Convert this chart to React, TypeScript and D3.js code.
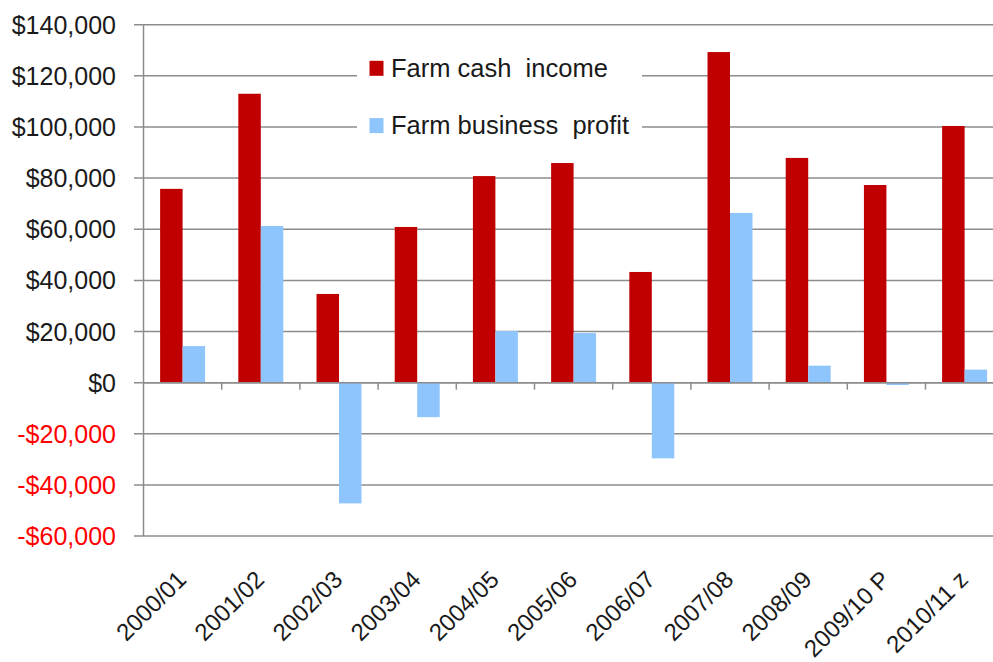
import { useEffect, useRef } from 'react';
import * as d3 from 'd3';

const categories = ['2000/01', '2001/02', '2002/03', '2003/04', '2004/05', '2005/06', '2006/07', '2007/08', '2008/09', '2009/10 P', '2010/11 z'];
const cashIncome = [75800, 113000, 34700, 60900, 80800, 85900, 43300, 129300, 87900, 77300, 100400];
const businessProfit = [14300, 61300, -47200, -13500, 20200, 19400, -29600, 66400, 6650, -900, 5100];
const yTicks = [140000, 120000, 100000, 80000, 60000, 40000, 20000, 0, -20000, -40000, -60000];
const seriesNames = ['Farm cash  income', 'Farm business  profit'];
const seriesColors = ['#c00000', '#8fc5fd'];

export default function App() {
  const svgRef = useRef<SVGSVGElement>(null);

  useEffect(() => {
    if (!svgRef.current) return;
    const width = 993;
    const height = 662;
    const left = 143.5;
    const step = 78.2;
    const font = '"Liberation Sans", Arial, sans-serif';

    const svg = d3.select(svgRef.current).attr('width', width).attr('height', height);
    svg.selectAll('*').remove();

    const x = d3.scaleBand<string>()
      .domain(categories)
      .range([left, left + step * categories.length])
      .paddingInner(0.425)
      .paddingOuter(0.2125);
    const x1 = d3.scaleBand<number>().domain([0, 1]).range([0, x.bandwidth()]);
    const y = d3.scaleLinear().domain([-60000, 140000]).range([536.1, 24.7]);

    // gridlines + y labels
    const grid = svg.append('g');
    yTicks.forEach(t => {
      grid.append('line')
        .attr('x1', 134).attr('x2', width)
        .attr('y1', y(t)).attr('y2', y(t))
        .attr('stroke', '#8c8c8c').attr('stroke-width', 1.5);
      grid.append('text')
        .attr('x', 116).attr('y', y(t)).attr('dy', '0.36em')
        .attr('text-anchor', 'end')
        .style('font-family', font).style('font-size', '25px')
        .attr('fill', t < 0 ? '#ff0000' : '#1a1a1a')
        .text((t < 0 ? '-' : '') + d3.format('$,')(Math.abs(t)));
    });

    // bars
    const series = [cashIncome, businessProfit];
    series.forEach((vals, si) => {
      svg.append('g').selectAll('rect')
        .data(vals)
        .enter()
        .append('rect')
        .attr('x', (_, i) => (x(categories[i]) ?? 0) + (x1(si) ?? 0))
        .attr('width', x1.bandwidth())
        .attr('y', d => y(Math.max(0, d)))
        .attr('height', d => Math.abs(y(d) - y(0)))
        .attr('fill', seriesColors[si]);
    });

    // axes
    svg.append('line')
      .attr('x1', left).attr('x2', left)
      .attr('y1', y(140000)).attr('y2', y(-60000))
      .attr('stroke', '#8c8c8c').attr('stroke-width', 1.5);
    svg.append('line')
      .attr('x1', left).attr('x2', width)
      .attr('y1', y(0)).attr('y2', y(0))
      .attr('stroke', '#8c8c8c').attr('stroke-width', 1.5);
    categories.forEach((c, i) => {
      const tx = left + step * (i + 1);
      svg.append('line')
        .attr('x1', tx).attr('x2', tx)
        .attr('y1', y(0)).attr('y2', y(0) + 7)
        .attr('stroke', '#8c8c8c').attr('stroke-width', 1.5);
      const cx = (x(c) ?? 0) + x.bandwidth() / 2;
      svg.append('text')
        .attr('transform', `translate(${cx + 5},${581}) rotate(-45)`)
        .attr('text-anchor', 'end')
        .style('font-family', font).style('font-size', '24px')
        .attr('fill', '#1a1a1a')
        .text(c);
    });

    // legend
    const lg = svg.append('g');
    lg.append('rect').attr('x', 357).attr('y', 45).attr('width', 285).attr('height', 105).attr('fill', '#fff');
    seriesNames.forEach((name, i) => {
      const cy = 68.5 + i * 57.3;
      lg.append('rect')
        .attr('x', 369.5).attr('y', cy - 7.7).attr('width', 14).attr('height', 15)
        .attr('fill', seriesColors[i]);
      lg.append('text')
        .attr('x', 391).attr('y', cy + 8.2)
        .style('font-family', font).style('font-size', '25.5px')
        .style('white-space', 'pre')
        .attr('fill', '#1a1a1a')
        .text(name);
    });
  }, []);

  return (
    <svg ref={svgRef} style={{ position: 'absolute', left: 0, top: 0, background: '#fff' }} />
  );
}
